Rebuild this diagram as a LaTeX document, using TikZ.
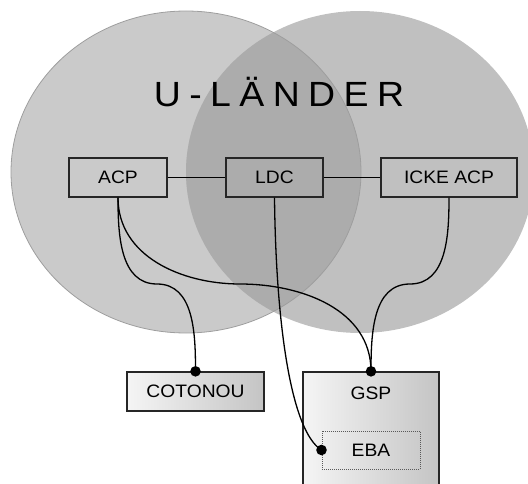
\documentclass[tikz,border=0pt]{standalone}
\usepackage{fontspec}
\setmainfont[FakeStretch=1.07]{Liberation Sans}
\newfontfamily\titlefont[FakeStretch=1.07,LetterSpace=24]{Liberation Sans}
\definecolor{leftland}{RGB}{202,202,202}
\definecolor{rightland}{RGB}{192,192,192}
\definecolor{bothland}{RGB}{172,172,172}
\begin{document}
\begin{tikzpicture}[x=1pt,y=1pt,
  box/.style={draw=black!85,line width=1.3pt,minimum height=39pt,inner sep=0pt,
    font=\fontsize{18}{20}\selectfont},
  shadebox/.style={box,left color=black!4,right color=black!23},
  ebabox/.style={draw=black!65,densely dotted,line width=1pt,minimum width=98pt,
    minimum height=38pt,font=\fontsize{18}{20}\selectfont},
  link/.style={line width=1.3pt}]
  \useasboundingbox (0,0) rectangle (528,-484);
  \clip (0,0) rectangle (528,-484);

  % the two overlapping regions
  \fill[leftland] (186,-172) ellipse [x radius=175, y radius=161];
  \fill[rightland] (360,-172) ellipse [x radius=174, y radius=161];
  \begin{scope}
    \clip (186,-172) ellipse [x radius=175, y radius=161];
    \fill[bothland] (360,-172) ellipse [x radius=174, y radius=161];
  \end{scope}
  \draw[black!38,line width=0.8pt] (186,-172) ellipse [x radius=175, y radius=161];

  \node[anchor=base] (title) at (279,-107) {\fontsize{35}{40}\titlefont U-LÄNDER};

  \node[box,minimum width=98pt] (acp) at (118,-177.5) {ACP};
  \node[box,minimum width=97pt] (ldc) at (274.5,-177.5) {LDC};
  \node[box,minimum width=136pt] (icke) at (449,-177.5) {ICKE ACP};
  \draw[link] (acp) -- (ldc) -- (icke);

  \node[shadebox,minimum width=137pt] (cotonou) at (195.5,-391.5) {COTONOU};
  \node[shadebox,minimum width=136pt,minimum height=128pt] (gsp) at (371,-436) {};
  \node[font=\fontsize{18}{20}\selectfont] (gsplabel) at (371,-393) {GSP};
  \node[ebabox] (eba) at (371,-450) {EBA};

  \coordinate (kc) at (157,-284);
  \coordinate (kg) at (240,-284);
  \coordinate (ki) at (410,-284);
  \draw[link] (acp.south) to[out=-90,in=180] (kc) to[out=0,in=90] (cotonou.north);
  \draw[link] (acp.south) to[out=-90,in=180] (kg) to[out=0,in=90] (gsp.north);
  \draw[link] (icke.south) to[out=-90,in=0] (ki) to[out=180,in=90] (gsp.north);
  \draw[link] (ldc.south) .. controls (276,-330) and (292,-432) .. (eba.west);

  \foreach \a in {cotonou.north, gsp.north, eba.west}
    \fill (\a) circle (5.3pt);
\end{tikzpicture}
\end{document}
